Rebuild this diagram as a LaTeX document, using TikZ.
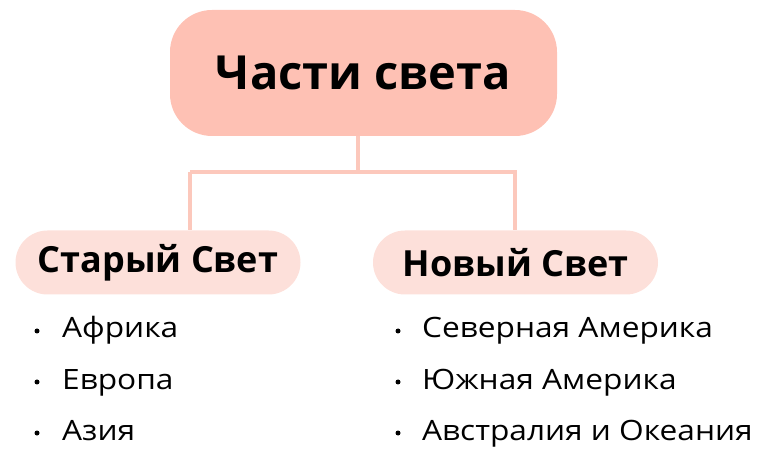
\documentclass[tikz,border=0pt]{standalone}
\usepackage{fontspec}
\setmainfont{Open Sans}
\newfontfamily\itemfont[FakeStretch=1.13]{Open Sans}
\definecolor{topfill}{HTML}{FEC1B4}
\definecolor{subfill}{HTML}{FDE0DA}
\definecolor{linkcol}{HTML}{FCC8BC}
\begin{document}
\begin{tikzpicture}[x=1pt,y=-1pt,
  topbox/.style={fill=topfill,rounded corners=42pt,minimum width=387pt,minimum height=126pt,inner sep=0pt,font=\fontsize{47}{53}\selectfont\bfseries},
  subbox/.style={fill=subfill,rounded corners=32pt,minimum width=285pt,minimum height=64pt,inner sep=0pt,font=\fontsize{36}{40}\selectfont\bfseries},
  item/.style={anchor=base west,inner sep=0pt,font=\itemfont\fontsize{28}{32}\selectfont},
  dot/.style={circle,fill=black,inner sep=0pt,minimum size=5pt},
  link/.style={draw=linkcol,line width=4pt}]
\useasboundingbox (0,0) rectangle (772,457);
\node[topbox] (top) at (363.5,73) {Части света};
\node[subbox] (old) at (158,262.5) {Старый Свет};
\node[subbox] (new) at (515.5,262.5) {Новый Свет};
\coordinate (mid) at (358,172);
\draw[link] (top.south -| mid) -- (mid);
\draw[link] (190,172) -| (old.north -| 190,0);
\draw[link] (190,172) -- (515,172) -- (new.north -| 515,0);
\node[dot] (b1) at (37,331) {};
\node[dot] (b2) at (37,382) {};
\node[dot] (b3) at (37,433) {};
\node[item] (a1) at (62,338) {Африка};
\node[item] (a2) at (62,389) {Европа};
\node[item] (a3) at (62,440) {Азия};
\node[dot] (c1) at (398,331) {};
\node[dot] (c2) at (398,382) {};
\node[dot] (c3) at (398,433) {};
\node[item] (d1) at (422,338) {Северная Америка};
\node[item] (d2) at (422,389) {Южная Америка};
\node[item] (d3) at (422,440) {Австралия и Океания};
\end{tikzpicture}
\end{document}
